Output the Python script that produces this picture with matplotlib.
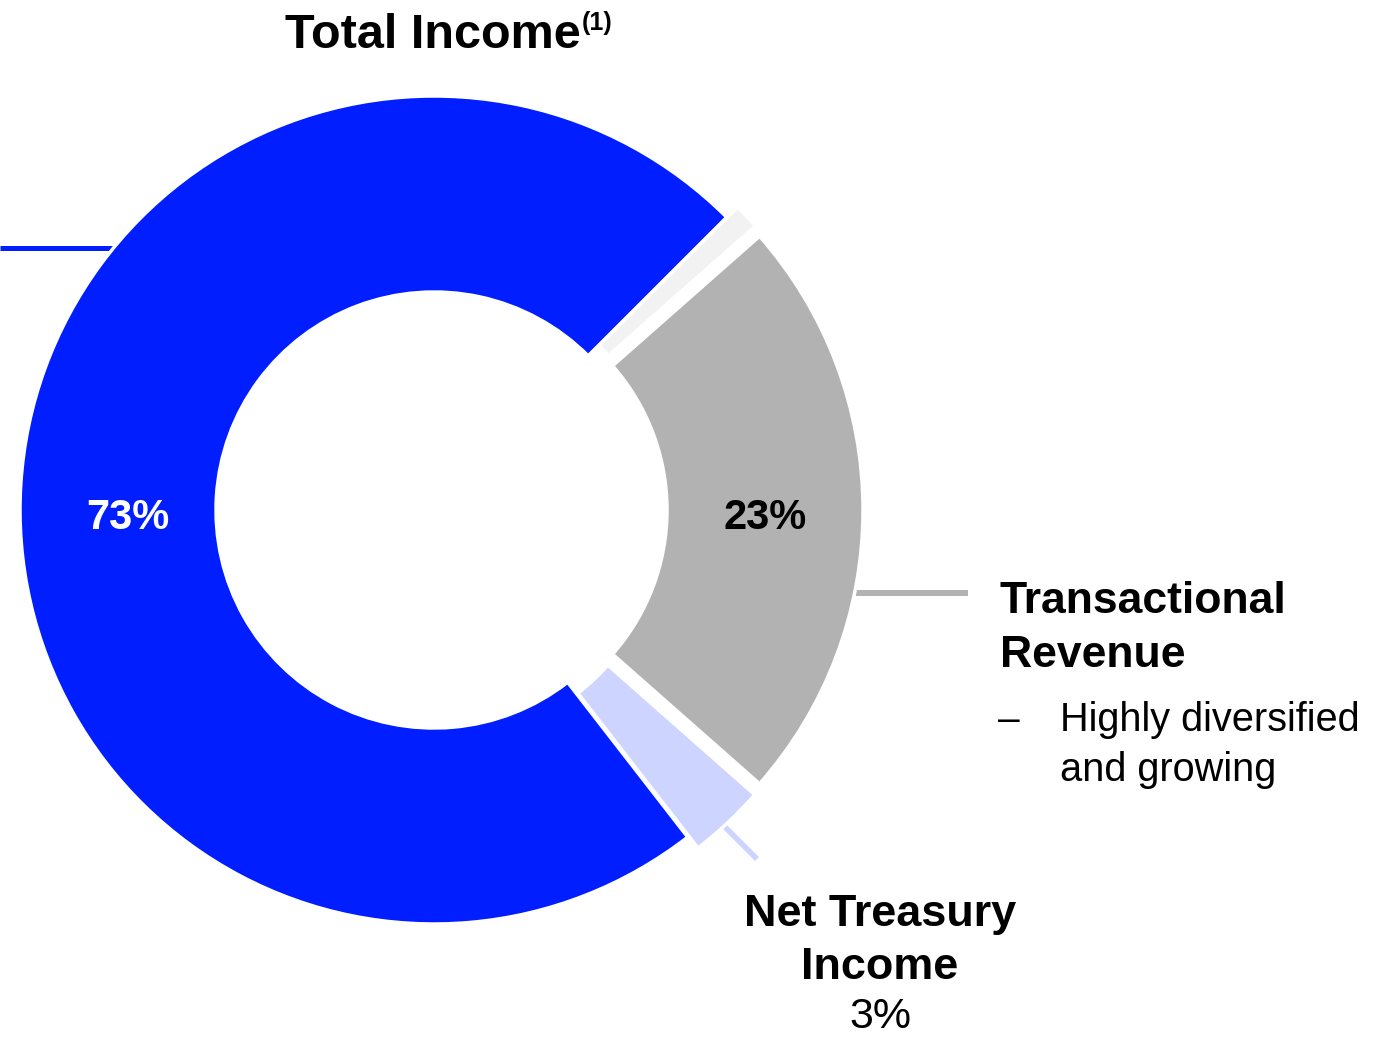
import matplotlib.pyplot as plt

plt.rcParams['font.family'] = ['Liberation Sans', 'DejaVu Sans']

# income mix, clockwise from the top right
segments = ['Other', 'Transactional Revenue', 'Net Treasury Income', 'Fee Income']
shares = [1, 23, 3, 73]
colors = ['#f2f2f2', '#b2b2b2', '#ccd4ff', '#001eff']
explode_px = [15, 15, 15, 0]

W, H = 1388, 1038
CX, CY, R, RING = 434, H - 510, 414, 196

fig = plt.figure(figsize=(W / 100, H / 100), dpi=100)
ax = fig.add_axes([0, 0, 1, 1])

# pie offsets are in data units here, so pixels work directly
wedges, _ = ax.pie(shares, colors=colors, startangle=45, counterclock=False,
                   center=(CX, CY), radius=R, explode=explode_px,
                   wedgeprops=dict(width=RING, edgecolor='white', linewidth=2.5))
ax.set_xlim(0, W)
ax.set_ylim(0, H)
ax.set_aspect('auto')
ax.axis('off')

# leader lines
ax.plot([0, 118], [H - 248, H - 248], color='#001eff', lw=3.6, solid_capstyle='butt', zorder=0)
ax.plot([852, 968], [H - 593, H - 593], color='#b2b2b2', lw=4.3, solid_capstyle='butt', zorder=0)
ax.plot([722, 757], [H - 824, H - 859], color='#ccd4ff', lw=4, solid_capstyle='butt', zorder=0)

# slice values
ax.text(128, H - 518, '73%', color='white', fontsize=30, fontweight='bold', ha='center', va='center')
ax.text(765, H - 518, '23%', color='black', fontsize=30, fontweight='bold', ha='center', va='center')

# title with footnote marker
ax.text(581, H - 48, 'Total Income', fontsize=35, fontweight='bold', ha='right', va='baseline')
ax.text(582, H - 23, '(1)', fontsize=18, fontweight='bold', ha='left', va='center')

# transactional revenue label (baseline = last line)
ax.text(1000, H - 667, 'Transactional\nRevenue', fontsize=32, fontweight='bold',
        ha='left', va='baseline', linespacing=1.41, multialignment='left')
ax.text(998, H - 721, '–', fontsize=28, ha='left', va='center')
ax.text(1060, H - 781, 'Highly diversified\nand growing', fontsize=28.6,
        ha='left', va='baseline', linespacing=1.39)

# net treasury income label
ax.text(880, H - 979, 'Net Treasury\nIncome', fontsize=32.4, fontweight='bold',
        ha='center', va='baseline', linespacing=1.36)
ax.text(880, H - 1037, '3%', fontsize=31, ha='center', va='bottom')

fig.savefig('out.png', dpi=100)
